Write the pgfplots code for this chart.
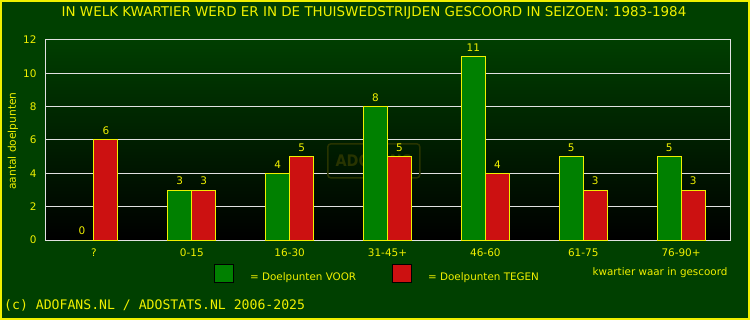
\documentclass[border=0pt]{standalone}
\usepackage{pgfplots}
\pgfplotsset{compat=1.18}
\usepackage{fontspec}
\setmainfont{DejaVu Sans}
\newfontfamily\monofont{DejaVu Sans Mono}
\newfontfamily\condfont{DejaVu Sans Condensed}
\definecolor{bgc}{RGB}{0,64,0}
\definecolor{ylw}{RGB}{240,240,0}
\definecolor{barg}{RGB}{0,128,0}
\definecolor{barr}{RGB}{204,17,17}
\definecolor{gridc}{RGB}{225,225,225}
\definecolor{plottop}{RGB}{0,62,0}
\definecolor{wm}{RGB}{40,52,0}
\begin{document}
\begin{tikzpicture}[x=1bp,y=1bp]
\path[use as bounding box] (0,0) rectangle (750,320);
\fill[bgc] (0,0) rectangle (750,320);
\draw[ylw, line width=2bp] (1,1) rectangle (749,319);
\node[ylw, font=\fontsize{13.5}{15}\selectfont] at (374,307) {IN WELK KWARTIER WERD ER IN DE THUISWEDSTRIJDEN GESCOORD IN SEIZOEN: 1983-1984};
\begin{axis}[
  at={(45bp,80bp)}, anchor=south west,
  scale only axis, width=685bp, height=200bp,
  xmin=-0.5, xmax=6.5, ymin=0, ymax=12,
  ybar=0pt, bar width=24bp,
  ytick={0,2,...,12},
  xtick={0,1,2,3,4,5,6},
  xticklabels={?,0-15,16-30,31-45+,46-60,61-75,76-90+},
  major tick length=0pt,
  ymajorgrids, grid style={gridc, line width=1bp},
  axis line style={gridc, line width=1bp},
  axis background/.style={shade, top color=plottop, bottom color=black},
  tick label style={ylw, font=\fontsize{10.5}{12}\selectfont},
  /pgf/number format/assume math mode=true,
  yticklabel style={xshift=-5bp},
  xticklabel style={yshift=-5bp},
  nodes near coords,
  every node near coord/.append style={ylw, font=\fontsize{10.5}{12}\selectfont, anchor=center, yshift=9bp},
]
\node[text=wm, draw=wm, line width=1.5bp, rounded corners=3bp, minimum width=92bp, minimum height=34bp, font=\condfont\bfseries\fontsize{16}{18}\selectfont] at (axis cs:2.86,4.75) {ADOFANS};
\addplot[fill=barg, draw=ylw, line width=1bp] coordinates {(0,0) (1,3) (2,4) (3,8) (4,11) (5,5) (6,5)};
\addplot[fill=barr, draw=ylw, line width=1bp] coordinates {(0,6) (1,3) (2,5) (3,5) (4,4) (5,3) (6,3)};
\end{axis}
\node[ylw, rotate=90, font=\fontsize{10.7}{12}\selectfont] at (13,179) {aantal doelpunten};
\fill[barg, draw=black, line width=1bp] (214,38) rectangle (233,56);
\node[ylw, anchor=west, inner sep=0pt, font=\fontsize{10.4}{12}\selectfont] at (250,42) {= Doelpunten VOOR};
\fill[barr, draw=black, line width=1bp] (392,38) rectangle (411,56);
\node[ylw, anchor=west, inner sep=0pt, font=\fontsize{10.4}{12}\selectfont] at (428,42) {= Doelpunten TEGEN};
\node[ylw, font=\fontsize{10.4}{12}\selectfont] at (660,47) {kwartier waar in gescoord};
\node[ylw, anchor=west, inner sep=0pt, font=\monofont\fontsize{13.2}{15}\selectfont] at (4,15) {(c) ADOFANS.NL / ADOSTATS.NL 2006-2025};
\end{tikzpicture}
\end{document}
